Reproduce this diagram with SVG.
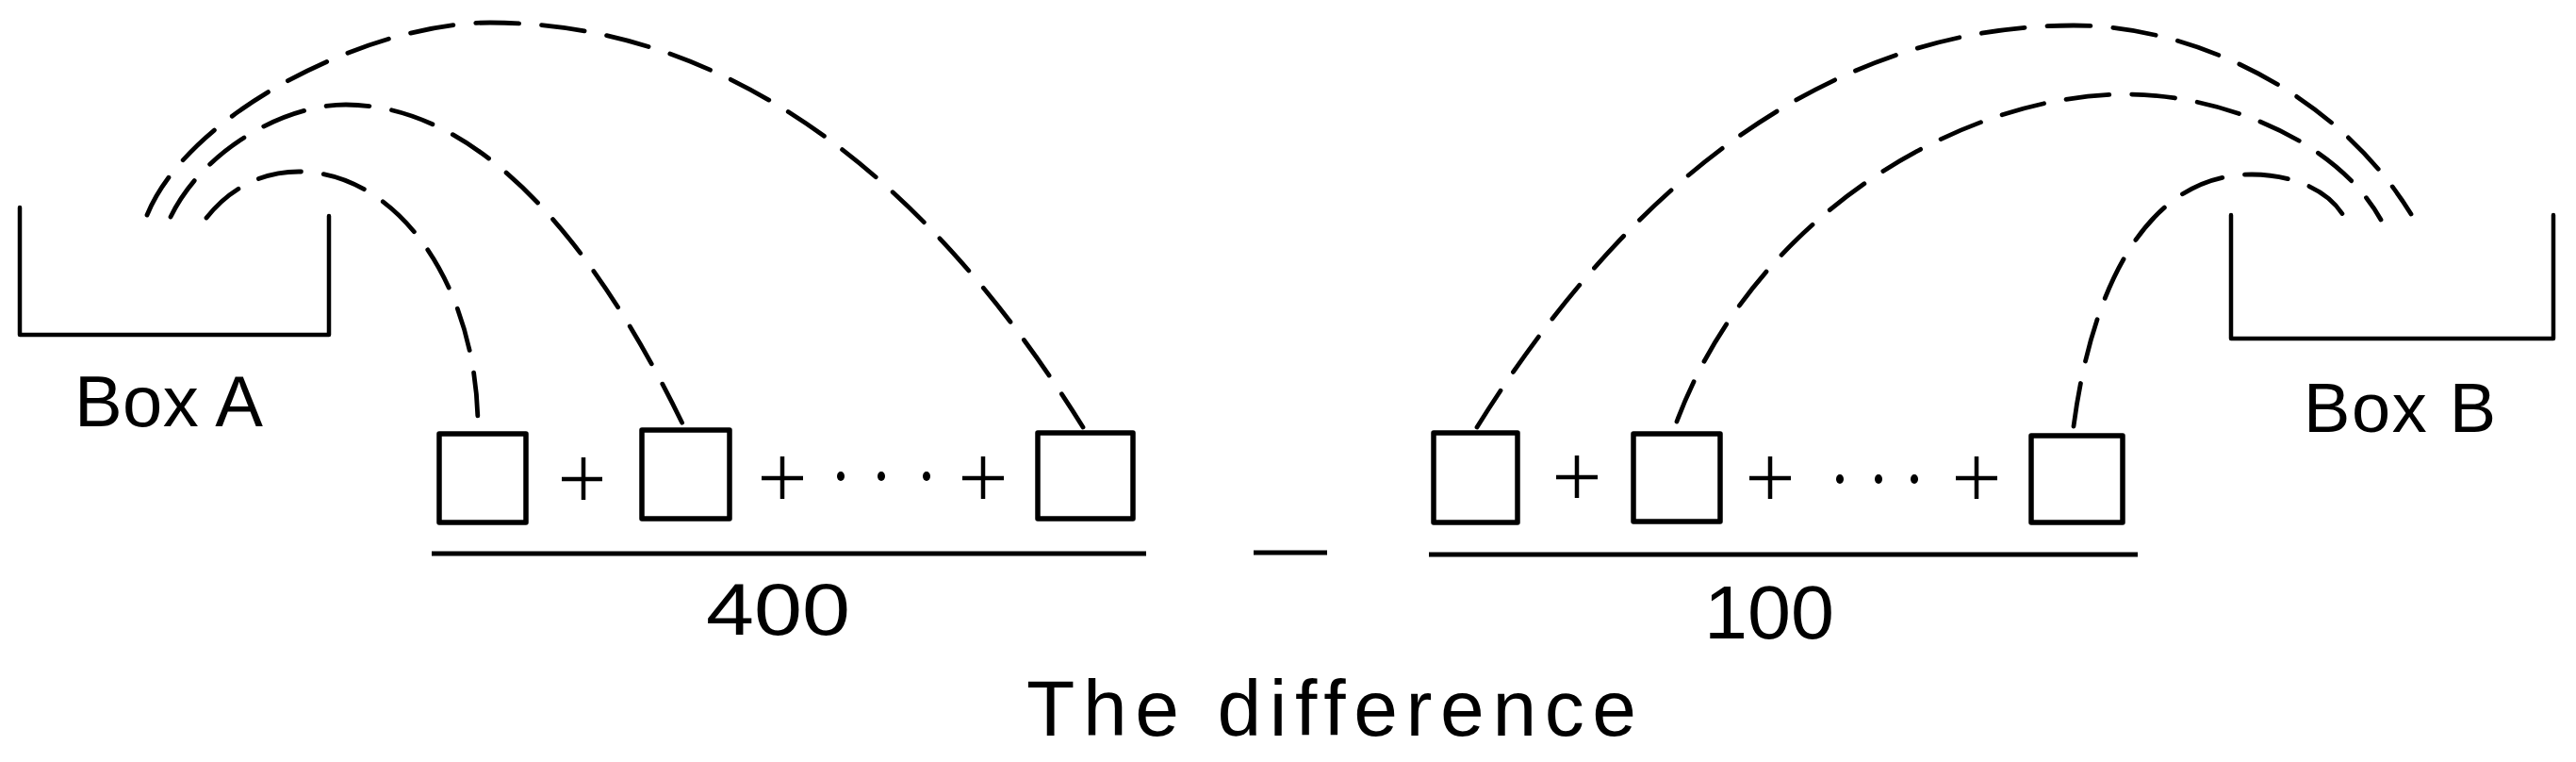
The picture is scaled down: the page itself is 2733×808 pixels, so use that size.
<svg xmlns="http://www.w3.org/2000/svg" width="2733" height="808" viewBox="0 0 2733 808">
<style>
.bg{fill:#fff}
.cont{fill:none;stroke:#000;stroke-width:4.5;stroke-linejoin:round;stroke-linecap:round}
.term{fill:none;stroke:#000;stroke-width:5.5;stroke-linejoin:round}
.op{fill:none;stroke:#000;stroke-width:4.5;stroke-linecap:butt}
.rule{fill:none;stroke:#000;stroke-width:5}
.dot{fill:#000}
.arc{fill:none;stroke:#000;stroke-width:4.8;stroke-dasharray:46 24;stroke-linecap:round}
.lbl{font-family:"Liberation Sans",Arial,sans-serif;fill:#000;font-variant-ligatures:none}
</style>
<rect class="bg" x="0" y="0" width="2733" height="808"/>

<g id="boxA">
<polyline class="cont" points="21,220 21,355 349,355 349,229"/>
<text class="lbl" x="79" y="452" font-size="76" textLength="200" lengthAdjust="spacing">Box A</text>
</g>

<g id="boxB">
<polyline class="cont" points="2367,228 2367,359 2709,359 2709,228"/>
<text class="lbl" x="2444" y="458" font-size="74" textLength="204" lengthAdjust="spacing">Box B</text>
</g>

<g id="a1"><rect class="term" x="466" y="460" width="92" height="94"/></g>
<g id="a2"><rect class="term" x="681" y="456" width="93" height="94"/></g>
<g id="a3"><rect class="term" x="1101" y="459" width="101" height="91"/></g>
<g id="b1"><rect class="term" x="1521" y="459" width="89" height="95"/></g>
<g id="b2"><rect class="term" x="1733" y="460" width="92" height="93"/></g>
<g id="b3"><rect class="term" x="2155" y="462" width="97" height="92"/></g>

<g id="sumA">
<path class="op" d="M596 508H639M619 485V530"/>
<path class="op" d="M808 507H852M830 484V529"/>
<ellipse class="dot" cx="892" cy="505" rx="4" ry="5"/>
<ellipse class="dot" cx="935" cy="505" rx="4" ry="5"/>
<ellipse class="dot" cx="983" cy="505" rx="4" ry="5"/>
<path class="op" d="M1021 507H1065M1043 484V529"/>
<line class="rule" x1="458" y1="587" x2="1216" y2="587"/>
<text class="lbl" x="749" y="673" font-size="77" textLength="153" lengthAdjust="spacingAndGlyphs">400</text>
</g>

<g id="minus">
<line class="rule" x1="1330" y1="586" x2="1408" y2="586"/>
</g>

<g id="sumB">
<path class="op" d="M1651 506H1695M1673 483V528"/>
<path class="op" d="M1856 507H1900M1878 484V529"/>
<ellipse class="dot" cx="1952" cy="508" rx="4" ry="5"/>
<ellipse class="dot" cx="1993" cy="508" rx="4" ry="5"/>
<ellipse class="dot" cx="2031" cy="508" rx="4" ry="5"/>
<path class="op" d="M2075 507H2119M2097 484V529"/>
<line class="rule" x1="1516" y1="588" x2="2268" y2="588"/>
<text class="lbl" x="1808" y="677" font-size="79" textLength="138" lengthAdjust="spacingAndGlyphs">100</text>
</g>

<g id="caption">
<text class="lbl" x="1089" y="780" font-size="84" textLength="647" lengthAdjust="spacing">The difference</text>
</g>

<g id="connectors">
<path class="arc" d="M219 231C245 198 280 182 317 182A190 271 0 0 1 507 453"/>
<path class="arc" d="M181 230C215 160 300 111 367 111C486 111 610 215 724 449"/>
<path class="arc" d="M156 228C200 120 390 24 520 24C740 24 960 150 1149 453"/>
<path class="arc" d="M1567 453C1756 150 1980 27 2200 27C2330 27 2480 100 2558 227"/>
<path class="arc" d="M1779 447C1860 230 2080 100 2255 100C2360 100 2480 150 2526 233"/>
<path class="arc" d="M2200 452C2220 300 2280 185 2389 185C2430 185 2470 200 2487 230"/>
</g>
</svg>
